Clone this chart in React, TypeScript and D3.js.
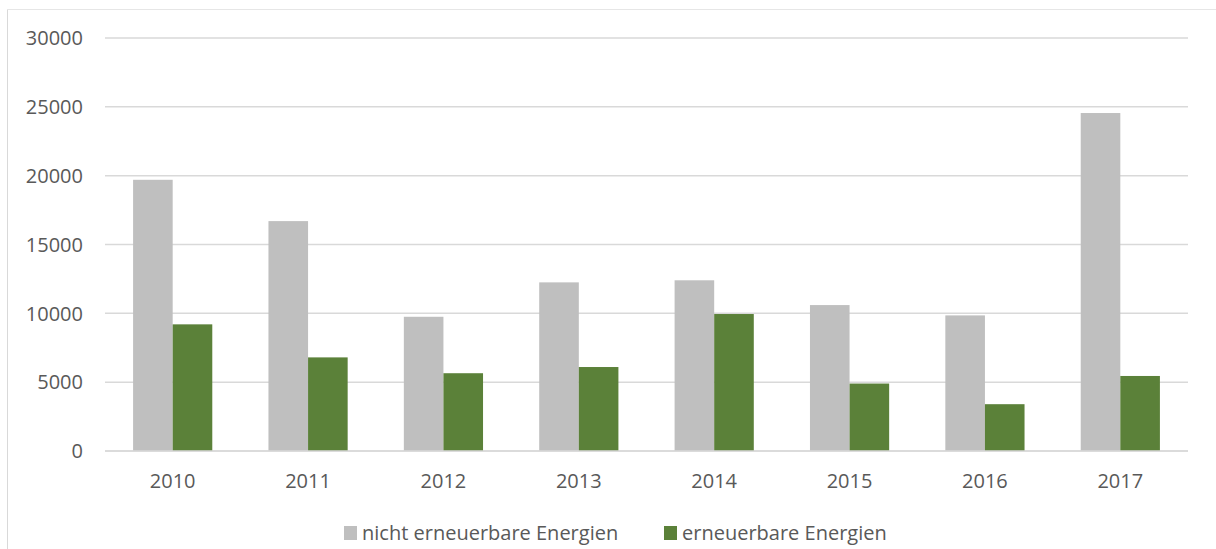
import React from "react";
import * as d3 from "d3";

const years = ["2010", "2011", "2012", "2013", "2014", "2015", "2016", "2017"];
const nichtErneuerbar = [19700, 16700, 9750, 12250, 12400, 10600, 9850, 24550];
const erneuerbar = [9200, 6800, 5650, 6100, 9950, 4900, 3400, 5450];
const yTicks = [0, 5000, 10000, 15000, 20000, 25000, 30000];
const seriesNames = ["nicht erneuerbare Energien", "erneuerbare Energien"];
const seriesColors = ["#BFBFBF", "#5B8139"];

const W = 1216;
const H = 549;
const left = 105;
const right = 1188;
const top = 38;
const bottom = 451;
const font = "'Open Sans', 'DejaVu Sans', sans-serif";

export default function App() {
  const x = d3.scaleBand().domain(years).range([left, right]).paddingInner(0.415).paddingOuter(0.2075);
  const inner = d3.scaleBand().domain(["0", "1"]).range([0, x.bandwidth()]);
  const y = d3.scaleLinear().domain([0, 30000]).range([bottom, top]);
  const series = [nichtErneuerbar, erneuerbar];

  return (
    <div style={{ position: "absolute", left: 0, top: 0 }}>
      <svg width={W} height={H} style={{ display: "block", background: "#fff" }}>
        <line x1={7.5} x2={W} y1={9.5} y2={9.5} stroke="#E6E6E6" strokeWidth={1} />
        <line x1={7.5} x2={7.5} y1={9.5} y2={H} stroke="#D9D9D9" strokeWidth={1} />
        {yTicks.map((t) => (
          <g key={t}>
            <line x1={left} x2={right} y1={y(t)} y2={y(t)} stroke="#D9D9D9" strokeWidth={1.5} />
            <text x={83} y={y(t)} dy="0.36em" textAnchor="end" fontFamily={font} fontSize={20} fill="#595959">
              {t}
            </text>
          </g>
        ))}
        {series.map((vals, si) =>
          vals.map((v, i) => (
            <rect
              key={`${si}-${i}`}
              x={(x(years[i]) as number) + (inner(String(si)) as number)}
              y={y(v)}
              width={inner.bandwidth()}
              height={y(0) - y(v)}
              fill={seriesColors[si]}
            />
          ))
        )}
        <line x1={left} x2={right} y1={y(0)} y2={y(0)} stroke="#D9D9D9" strokeWidth={1.5} />
        {years.map((yr) => (
          <text
            key={yr}
            x={(x(yr) as number) + x.bandwidth() / 2}
            y={481}
            dy="0.36em"
            textAnchor="middle"
            fontFamily={font}
            fontSize={20}
            fill="#595959"
          >
            {yr}
          </text>
        ))}
        {[344, 664].map((lx, si) => (
          <g key={si}>
            <rect x={lx} y={526} width={13} height={14} fill={seriesColors[si]} />
            <text x={lx + 18} y={540} fontFamily={font} fontSize={20} fill="#595959">
              {seriesNames[si]}
            </text>
          </g>
        ))}
      </svg>
    </div>
  );
}
